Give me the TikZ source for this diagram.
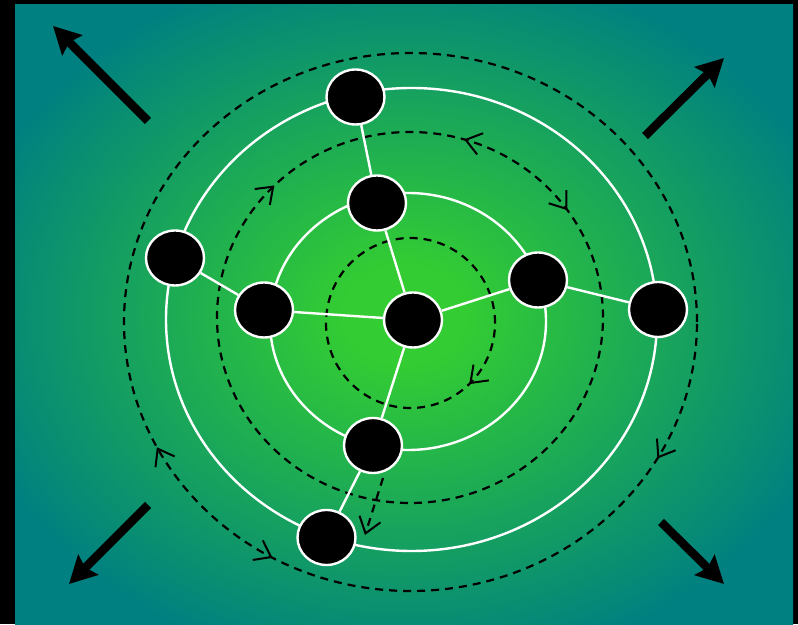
\documentclass[tikz,border=0pt]{standalone}
\usetikzlibrary{arrows.meta,shapes.geometric,decorations.markings}
\definecolor{bgc}{RGB}{51,204,51}
\definecolor{bgt}{RGB}{0,128,128}
\pgfdeclareradialshading{bgshade}{\pgfpoint{0bp}{0bp}}{color(0bp)=(bgc); color(4bp)=(bgc); color(29bp)=(bgt); color(50bp)=(bgt)}
\tikzset{
  chev/.tip={Straight Barb[length=15pt,width=22pt,line width=2pt]},
  dashring/.style={draw=black,line width=2.2pt,dash pattern=on 8pt off 6pt},
  whitering/.style={draw=white,line width=2.4pt},
  dot/.style={ellipse,draw=white,line width=2.4pt,fill=black,minimum width=58pt,minimum height=55pt,inner sep=0pt},
  link/.style={draw=white,line width=2.4pt},
  bigarrow/.style={line width=8.5pt,-{Stealth[length=27pt,width=28pt,inset=4pt]}}
}
\begin{document}
\begin{tikzpicture}[x=1pt,y=1pt]
\useasboundingbox (0,0) rectangle (798,624);
\fill[black] (0,0) rectangle (798,624);
\shade[shading=bgshade] (15,0) rectangle (793,619);
% rings
\draw[dashring,postaction={decorate},decoration={markings,
  mark=at position 0.872 with {\arrowreversed{chev}}}]
  (410.5,301) ellipse [x radius=84.5pt,y radius=85pt];
\draw[whitering] (408,302.5) ellipse [x radius=138pt,y radius=128.5pt];
\draw[dashring,postaction={decorate},decoration={markings,
  mark=at position 0.0967 with {\arrowreversed{chev}},
  mark=at position 0.204 with {\arrow{chev}},
  mark=at position 0.3756 with {\arrowreversed{chev}}}]
  (410,306.5) ellipse [x radius=193pt,y radius=185.5pt];
\draw[whitering] (411.5,304.5) ellipse [x radius=245.5pt,y radius=231.5pt];
\draw[dashring,postaction={decorate},decoration={markings,
  mark=at position 0.575 with {\arrowreversed{chev}},
  mark=at position 0.668 with {\arrow{chev}},
  mark=at position 0.9175 with {\arrowreversed{chev}}}]
  (410.5,302) ellipse [x radius=286.5pt,y radius=269pt];
% nodes
\node[dot] (c) at (413,304) {};
\node[dot] (a1) at (377,421) {};
\node[dot] (a2) at (355.5,527) {};
\node[dot] (b1) at (264,314) {};
\node[dot] (b2) at (175,366) {};
\node[dot] (r1) at (538,344) {};
\node[dot] (r2) at (658,314.5) {};
\node[dot] (d1) at (373,178.5) {};
\node[dot] (d2) at (326.5,86.5) {};
% links
\draw[link] (c) -- (a1);
\draw[link] (a1) -- (a2);
\draw[link] (c) -- (b1);
\draw[link] (b1) -- (b2);
\draw[link] (c) -- (r1);
\draw[link] (r1) -- (r2);
\draw[link] (c) -- (d1);
\draw[link] (d1) -- (d2);
% dashed straight arrow
\coordinate (ds) at (383,146);
\coordinate (de) at (365,89);
\draw[dashring,-{chev}] (ds) -- (de);
% corner arrows
\coordinate (tlA) at (148,503); \coordinate (tlB) at (53,598);
\coordinate (trA) at (645,488); \coordinate (trB) at (724,566);
\coordinate (blA) at (148,119); \coordinate (blB) at (69,40);
\coordinate (brA) at (661,102); \coordinate (brB) at (724,40);
\draw[bigarrow] (tlA) -- (tlB);
\draw[bigarrow] (trA) -- (trB);
\draw[bigarrow] (blA) -- (blB);
\draw[bigarrow] (brA) -- (brB);
\end{tikzpicture}
\end{document}
